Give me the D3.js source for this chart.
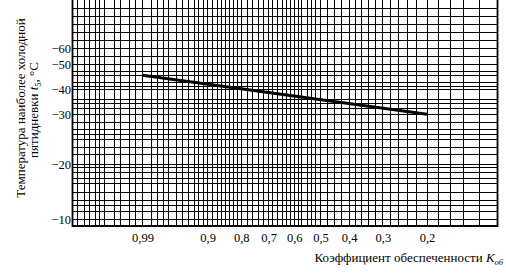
<!DOCTYPE html>
<html>
<head>
<meta charset="utf-8">
<script src="https://cdn.jsdelivr.net/npm/d3@7"></script>
<style>
  body { margin: 0; background: #fff; }
  svg { display: block; }
  text { font-family: "Liberation Serif", "Times New Roman", serif; fill: #000; }
</style>
</head>
<body>
<div id="chart"></div>
<script>
// Probability of not exceeding (K_об) and temperature of the coldest five days (°C)
const kTicks = [0.99, 0.9, 0.8, 0.7, 0.6, 0.5, 0.4, 0.3, 0.2];
const kTickLabels = ["0,99", "0,9", "0,8", "0,7", "0,6", "0,5", "0,4", "0,3", "0,2"];
const tTicks = [-10, -20, -30, -40, -50, -60];
const tTickLabels = ["\u221210", "\u221220", "\u221230", "\u221240", "\u221250", "\u221260"];

// the design line
const lineK = [0.99, 0.2];
const lineT = [-45.6, -30.1];

// grid of the probability paper
const kGrid = [0.9999, 0.9998, 0.9997, 0.9995, 0.9993, 0.999, 0.998, 0.997, 0.995, 0.993,
    0.99, 0.985, 0.98, 0.975, 0.97, 0.96, 0.95, 0.94, 0.93, 0.92, 0.91,
    0.9, 0.8875, 0.875, 0.8625, 0.85, 0.8375, 0.825, 0.8125,
    0.8, 0.78, 0.76, 0.74, 0.72,
    0.7, 0.685, 0.665, 0.645, 0.63, 0.615,
    0.6, 0.585, 0.57, 0.55, 0.535, 0.52,
    0.5, 0.475, 0.45, 0.425,
    0.4, 0.38, 0.36, 0.34, 0.32,
    0.3, 0.28, 0.26, 0.24, 0.22, 0.2, 0.18, 0.16, 0.14, 0.12];
const tGrid = [-85, -80, -75, -70, -65, -60, -55,
    -50, -47, -45.5, -42.5, -41,
    -40, -36, -34.5, -32.5,
    -30, -28.5, -27, -26, -25, -23.5, -22,
    -20, -19.5, -18.5, -17.5, -16.5, -15, -13.5, -12.5, -11.5, -10];

const width = 506, height = 273;

const svg = d3.select('#chart')
    .append('svg')
    .attr('width', width)
    .attr('height', height);

// Gumbel paper: -ln(-ln(1 - K))
const gumbel = k => -Math.log(-Math.log(1 - k));
const xLin = d3.scaleLinear()
    .domain([gumbel(0.99), gumbel(0.2)])
    .range([142.5, 427]);
const x = k => xLin(gumbel(k));

const y = d3.scaleLinear()
    .domain([-8.8, -10, -20, -30, -40, -50, -60, -90])
    .range([226, 219.5, 164.5, 114.5, 89, 64.5, 48, 0]);

const plotLeft = 72.5,
    plotRight = x(0.1),
    plotTop = 0,
    plotBottom = y(-8.8);

// Grid
const grid = svg.append('g')
    .attr('stroke', '#000')
    .attr('stroke-width', 1)
    .attr('shape-rendering', 'crispEdges');

grid.selectAll('.vg').data(kGrid).join('line')
    .attr('class', 'vg')
    .attr('x1', d => x(d)).attr('x2', d => x(d))
    .attr('y1', plotTop).attr('y2', plotBottom);

grid.selectAll('.hg').data(tGrid).join('line')
    .attr('class', 'hg')
    .attr('x1', plotLeft).attr('x2', plotRight)
    .attr('y1', d => y(d)).attr('y2', d => y(d));

// Frame
svg.append('path')
    .attr('d', `M${plotLeft},${plotTop}V${plotBottom}H${plotRight}V${plotTop}`)
    .attr('fill', 'none')
    .attr('stroke', '#000')
    .attr('stroke-width', 1.8);

// Line
const pts = lineK.map((k, i) => [k, lineT[i]]);
svg.append('path')
    .datum(pts)
    .attr('d', d3.line().x(d => x(d[0])).y(d => y(d[1])))
    .attr('fill', 'none')
    .attr('stroke', '#000')
    .attr('stroke-width', 3.2);

// Axes
const axisY = svg.append('g')
    .attr('transform', `translate(${plotLeft},0)`)
    .call(d3.axisLeft(y).tickValues(tTicks).tickSize(0).tickPadding(1.5)
        .tickFormat((d, i) => tTickLabels[i]));
axisY.select('.domain').remove();
axisY.selectAll('text')
    .style('font-family', '"Liberation Serif", serif')
    .style('font-size', '12.5px');

const axisX = svg.append('g')
    .attr('transform', `translate(0,${plotBottom})`)
    .call(d3.axisBottom(xLin).tickValues(kTicks.map(gumbel)).tickSize(0).tickPadding(7)
        .tickFormat((d, i) => kTickLabels[i]));
axisX.select('.domain').remove();
axisX.selectAll('text')
    .style('font-family', '"Liberation Serif", serif')
    .style('font-size', '12.5px');

// Axis titles
const xTitle = svg.append('text')
    .attr('x', 503)
    .attr('y', 262)
    .attr('text-anchor', 'end')
    .style('font-size', '13px');
xTitle.append('tspan').text('Коэффициент обеспеченности ');
xTitle.append('tspan').attr('font-style', 'italic').text('K');
xTitle.append('tspan').attr('font-style', 'italic').attr('font-size', '8.5px').attr('dy', 3).text('об');

svg.append('text')
    .attr('transform', 'translate(24.5,108) rotate(-90)')
    .attr('text-anchor', 'middle')
    .style('font-size', '13px')
    .text('Температура наиболее холодной');

const yTitle2 = svg.append('text')
    .attr('transform', 'translate(38,110) rotate(-90)')
    .attr('text-anchor', 'middle')
    .style('font-size', '13px');
yTitle2.append('tspan').text('пятидневки ');
yTitle2.append('tspan').attr('font-style', 'italic').text('t');
yTitle2.append('tspan').attr('font-size', '8.5px').attr('dy', 3).text('5');
yTitle2.append('tspan').attr('dy', -3).text(', °C');
</script>
</body>
</html>
